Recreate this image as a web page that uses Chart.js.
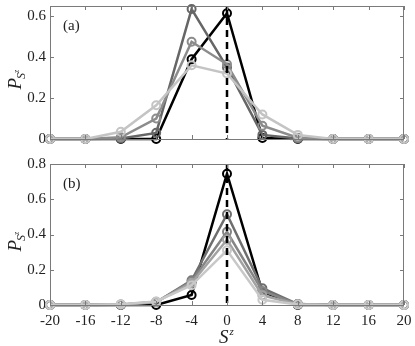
<!DOCTYPE html>
<html lang="en">
<head>
    <meta charset="UTF-8">
    <title>P(Sz)</title>
    <style>
        body { margin: 0; background: #fff; }
        #wrap { position: relative; width: 415px; height: 346px; }
        canvas { position: absolute; left: 0; }
    </style>
</head>
<body>
<div id="wrap">
    <canvas id="panelA" width="415" height="150" style="top:0px"></canvas>
    <canvas id="panelB" width="415" height="196" style="top:150px"></canvas>
</div>
<script src="https://cdn.jsdelivr.net/npm/chart.js"></script>
<script type="text/javascript">
    // S^z values (x axis)
    var sz = [-20, -16, -12, -8, -4, 0, 4, 8, 12, 16, 20];

    // panel (a)
    var aBlack = [0, 0, 0, 0, 0.39, 0.615, 0.005, 0, 0, 0, 0];
    var aDark  = [0, 0, 0.003, 0.03, 0.635, 0.35, 0.02, 0.002, 0, 0, 0];
    var aMid   = [0, 0, 0.008, 0.10, 0.475, 0.365, 0.065, 0.006, 0, 0, 0];
    var aLight = [0, 0, 0.035, 0.165, 0.36, 0.32, 0.12, 0.02, 0, 0, 0];

    // panel (b)
    var bBlack = [0, 0, 0, 0, 0.057, 0.745, 0.075, 0, 0, 0, 0];
    var bDark  = [0, 0, 0.001, 0.015, 0.14, 0.515, 0.095, 0.005, 0, 0, 0];
    var bMid   = [0, 0, 0.002, 0.017, 0.135, 0.415, 0.08, 0.005, 0, 0, 0];
    var bMid2  = [0, 0, 0.003, 0.018, 0.125, 0.37, 0.055, 0.004, 0, 0, 0];
    var bLight = [0, 0, 0.004, 0.02, 0.112, 0.31, 0.03, 0.003, 0, 0, 0];

    var yTicksA = [0, 0.2, 0.4, 0.6];
    var yTicksB = [0, 0.2, 0.4, 0.6, 0.8];

    var serif = "'Liberation Serif', 'Times New Roman', serif";

    function pts(vals) {
        return sz.map(function (x, i) { return {x: x, y: vals[i]}; });
    }

    function series(vals, color) {
        return {
            data: pts(vals),
            borderColor: color,
            borderWidth: 2.5,
            pointRadius: 4,
            pointBorderWidth: 2,
            pointBackgroundColor: 'rgba(0,0,0,0)',
            pointBorderColor: color,
            tension: 0,
            clip: false
        };
    }

    function dashed(top) {
        return {
            data: [{x: 0, y: top}, {x: 0, y: 0}],
            borderColor: '#000',
            borderWidth: 2.5,
            borderDash: [7, 5],
            pointRadius: 0,
            clip: false
        };
    }

    // frame, inward ticks, panel letter and axis labels
    var framePlugin = {
        id: 'frame',
        afterDraw: function (chart, args, opts) {
            var ctx = chart.ctx;
            var a = chart.chartArea;
            var xs = chart.scales.x, ys = chart.scales.y;
            ctx.save();
            ctx.strokeStyle = '#7a7a7a';
            ctx.lineWidth = 1;
            ctx.strokeRect(a.left + 0.5, a.top + 0.5, a.right - a.left - 1, a.bottom - a.top);
            ctx.beginPath();
            xs.ticks.forEach(function (t) {
                var px = Math.round(xs.getPixelForValue(t.value)) + 0.5;
                ctx.moveTo(px, a.top); ctx.lineTo(px, a.top + 4);
                ctx.moveTo(px, a.bottom); ctx.lineTo(px, a.bottom - 4);
            });
            ys.ticks.forEach(function (t) {
                var py = Math.round(ys.getPixelForValue(t.value)) + 0.5;
                ctx.moveTo(a.left, py); ctx.lineTo(a.left + 4, py);
                ctx.moveTo(a.right, py); ctx.lineTo(a.right - 4, py);
            });
            ctx.stroke();

            ctx.fillStyle = '#222';
            ctx.font = '15px ' + serif;
            ctx.textBaseline = 'middle';
            ctx.textAlign = 'left';
            ctx.fillText(opts.letter, a.left + 13, a.top + 20);

            // y label P_{S^z}
            var my = (a.top + a.bottom) / 2 + 3;
            ctx.translate(21, my);
            ctx.rotate(-Math.PI / 2);
            ctx.textBaseline = 'alphabetic';
            ctx.font = 'italic 19px ' + serif;
            ctx.fillText('P', -14, 0);
            var w = ctx.measureText('P').width;
            ctx.font = 'italic 12px ' + serif;
            ctx.fillText('S', -14 + w - 1, 4);
            var w2 = ctx.measureText('S').width;
            ctx.font = 'italic 8px ' + serif;
            ctx.fillText('z', -14 + w - 1 + w2, -2);
            ctx.setTransform(1, 0, 0, 1, 0, 0);

            if (opts.xTitle) {
                var cx = (a.left + a.right) / 2;
                ctx.textBaseline = 'alphabetic';
                ctx.font = 'italic 19px ' + serif;
                ctx.fillText('S', cx - 8, chart.height - 3);
                var ws = ctx.measureText('S').width;
                ctx.font = 'italic 11px ' + serif;
                ctx.fillText('z', cx - 8 + ws + 1, chart.height - 11);
            }
            ctx.restore();
        }
    };

    function makeChart(id, sets, top, yTicks, pad, xLabels, letter) {
        var Canvas = document.getElementById(id);
        return new Chart(Canvas, {
            type: 'line',
            data: {datasets: sets},
            plugins: [framePlugin],
            options: {
                animation: false,
                responsive: false,
                events: [],
                layout: {padding: pad},
                plugins: {
                    legend: {display: false},
                    tooltip: {enabled: false},
                    frame: {letter: letter, xTitle: xLabels}
                },
                scales: {
                    x: {
                        type: 'linear', min: -20, max: 20,
                        grid: {display: false, drawTicks: false},
                        border: {display: false},
                        ticks: {
                            display: xLabels, stepSize: 4, padding: 7,
                            color: '#222', font: {family: serif, size: 15}
                        },
                        afterFit: function (s) {
                            s.height = xLabels ? 41 : 0;
                            s.paddingLeft = 0; s.paddingRight = 0;
                        }
                    },
                    y: {
                        min: 0, max: top,
                        grid: {display: false, drawTicks: false},
                        border: {display: false},
                        ticks: {color: '#222', padding: 4, font: {family: serif, size: 15}},
                        afterBuildTicks: function (s) {
                            s.ticks = yTicks.map(function (v) { return {value: v}; });
                        },
                        afterFit: function (s) {
                            s.width = 44;
                            s.paddingTop = 0; s.paddingBottom = 0;
                        }
                    }
                }
            }
        });
    }

    makeChart('panelA', [
        dashed(0.65),
        series(aLight, '#c4c4c4'),
        series(aMid, '#8c8c8c'),
        series(aDark, '#666666'),
        series(aBlack, '#000000')
    ], 0.65, yTicksA, {left: 6, right: 11, top: 6, bottom: 11}, false, '(a)');

    makeChart('panelB', [
        dashed(0.8),
        series(bLight, '#c8c8c8'),
        series(bMid2, '#a2a2a2'),
        series(bMid, '#858585'),
        series(bDark, '#6e6e6e'),
        series(bBlack, '#000000')
    ], 0.8, yTicksB, {left: 6, right: 11, top: 14, bottom: 0}, true, '(b)');
</script>
</body>
</html>
